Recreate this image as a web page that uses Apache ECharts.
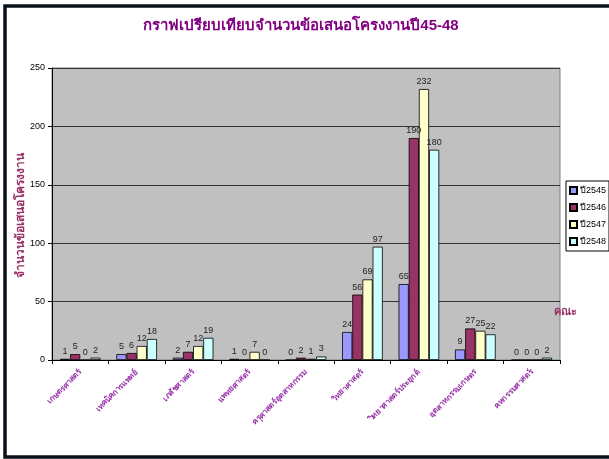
<!DOCTYPE html>
<html><head><meta charset="utf-8">
<script src="https://cdn.jsdelivr.net/npm/echarts@6/dist/echarts.min.js"></script>
<style>html,body{margin:0;padding:0;background:#fff}#c{width:609px;height:459px}</style>
</head><body><div id="c"></div>
<script>
const categories = ['เกษตรศาสตร์','เทคนิคการแพทย์','เภสัชศาสตร์','แพทยศาสตร์','ครุศาสตร์อุตสาหกรรม','วิทยาศาสตร์','วิทยาศาสตร์ประยุกต์','อุตสาหกรรมเกษตร','คหกรรมศาสตร์'];
const seriesNames = ['ปี2545','ปี2546','ปี2547','ปี2548'];
const y2545 = [1,5,2,1,0,24,65,9,0];
const y2546 = [5,6,7,0,2,56,190,27,0];
const y2547 = [0,12,12,7,1,69,232,25,0];
const y2548 = [2,18,19,0,3,97,180,22,2];
const colors = ['#9999FF','#993366','#FFFFCC','#CCFFFF'];

const chart = echarts.init(document.getElementById('c'));
const font = 'Arial, "Liberation Sans", "Noto Sans", sans-serif';
const data = [y2545,y2546,y2547,y2548];
chart.setOption({
  animation:false,
  textStyle:{fontFamily:font},
  title:{text:'กราฟเปรียบเทียบจำนวนข้อเสนอโครงงานปี45-48',left:296,top:13,textAlign:'center',
    textStyle:{color:'#800080',fontSize:15,fontWeight:'bold',fontFamily:font}},
  graphic:[
    {type:'rect',shape:{x:5,y:6,width:700,height:451},style:{fill:null,stroke:'#0a0f1a',lineWidth:3.5},z:100},
    {type:'text',left:554,top:306,style:{text:'คณะ',fill:'#993366',font:'bold 11px '+font}},
    {type:'text',x:21,y:215,rotation:Math.PI/2,style:{text:'จำนวนข้อเสนอโครงงาน',fill:'#993366',
      font:'bold 12px '+font,align:'center',verticalAlign:'middle'}}
  ],
  legend:{orient:'vertical',left:566,top:181,itemWidth:7,itemHeight:7,itemGap:8,padding:[5,3,5,3],
    borderColor:'#000',borderWidth:1,icon:'rect',
    textStyle:{fontSize:9,color:'#000',padding:[0,0,0,-2]},data:seriesNames},
  grid:{left:52,top:68,right:49,bottom:99,show:true,backgroundColor:'#C0C0C0',borderColor:'#808080',borderWidth:1},
  xAxis:{type:'category',data:categories,
    axisLine:{lineStyle:{color:'#000'}},axisTick:{show:true,length:4,lineStyle:{color:'#000'}},
    axisLabel:{rotate:45,interval:0,fontSize:8,color:'#9933AA',fontWeight:'bold',margin:11}},
  yAxis:{type:'value',min:0,max:250,interval:50,
    axisLine:{show:true,lineStyle:{color:'#000'}},axisTick:{show:true,length:4,lineStyle:{color:'#000'}},
    axisLabel:{fontSize:9,color:'#000',margin:7},
    splitLine:{lineStyle:{color:'#333',width:1}}},
  series:seriesNames.map((n,i)=>({name:n,type:'bar',data:data[i],barGap:'0%',barCategoryGap:'28%',
    itemStyle:{color:colors[i],borderColor:'#000',borderWidth:0.8},
    label:{show:true,position:'top',fontSize:9,color:'#222',distance:3}}))
});
</script></body></html>
